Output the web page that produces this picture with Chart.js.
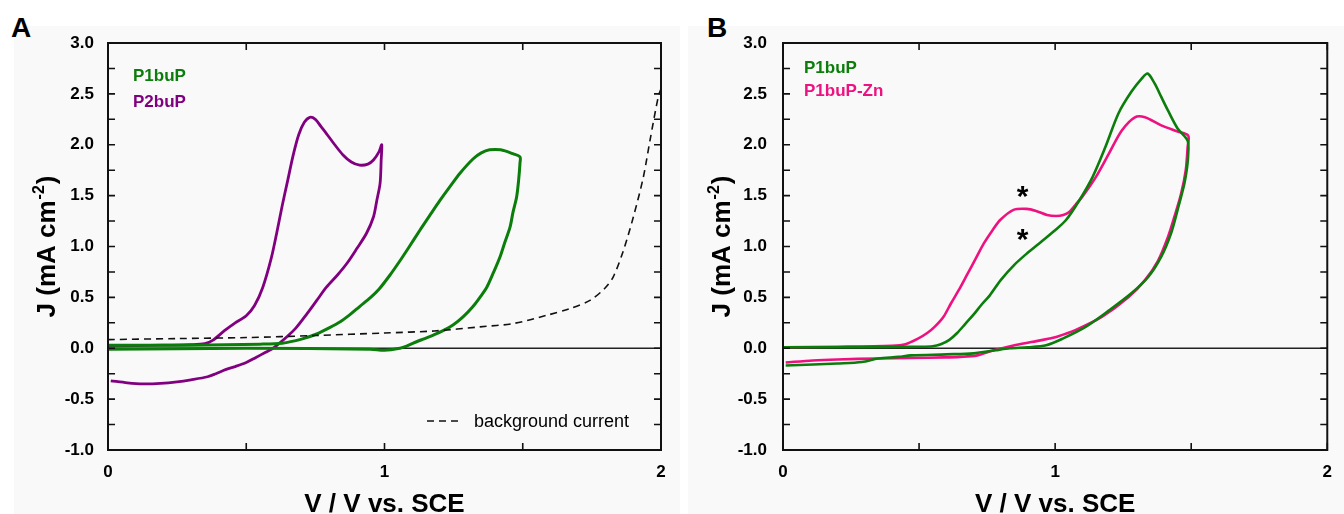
<!DOCTYPE html>
<html>
<head>
<meta charset="utf-8">
<script src="https://cdn.jsdelivr.net/npm/chart.js@4.4.0/dist/chart.umd.min.js"></script>
<style>
  html, body { margin: 0; padding: 0; background: #fff; }
  #wrap { position: relative; width: 1344px; height: 514px; overflow: hidden; font-family: "Liberation Sans", Arial, sans-serif; }
  .bg { position: absolute; top: 26px; bottom: 0; background: #f9f9f9; }
  .letter { position: absolute; top: 14px; font-weight: bold; font-size: 28px; line-height: 28px; color: #000; }
  canvas { position: absolute; top: 0; }
</style>
</head>
<body>
<div id="wrap">
  <div class="bg" style="left:14px; width:666px;"></div>
  <div class="bg" style="left:688px; width:656px;"></div>
  <div class="letter" style="left:11px;">A</div>
  <div class="letter" style="left:707px;">B</div>
  <canvas id="chartA" width="680" height="514" style="left:0"></canvas>
  <canvas id="chartB" width="664" height="514" style="left:680px"></canvas>
</div>
<script>
// === DATA ===
// Panel A - P1buP : forward scan, then reverse scan
const aP1buP_V = [0.00, 0.30, 0.55, 0.63, 0.70, 0.755, 0.80, 0.84, 0.875, 0.91, 0.95, 0.98, 1.02, 1.056, 1.09, 1.128, 1.165, 1.20, 1.24, 1.273, 1.32, 1.35, 1.38, 1.42, 1.466, 1.49,
                  1.49, 1.485, 1.478, 1.465, 1.454, 1.435, 1.418, 1.395, 1.37, 1.345, 1.32, 1.285, 1.249, 1.21, 1.177, 1.14, 1.104, 1.08, 1.056, 1.00, 0.95, 0.50, 0.00];
const aP1buP_J = [0.03, 0.03, 0.04, 0.05, 0.09, 0.14, 0.20, 0.26, 0.33, 0.41, 0.50, 0.58, 0.72, 0.86, 1.00, 1.16, 1.31, 1.45, 1.60, 1.72, 1.86, 1.92, 1.95, 1.95, 1.91, 1.88,
                  1.82, 1.65, 1.49, 1.34, 1.19, 1.04, 0.90, 0.75, 0.60, 0.50, 0.41, 0.31, 0.23, 0.17, 0.13, 0.09, 0.05, 0.02, 0.00, -0.02, -0.01, 0.00, -0.01];

// Panel A - P2buP
const aP2buP_V = [0.00, 0.10, 0.20, 0.30, 0.35, 0.38, 0.42, 0.46, 0.50, 0.53, 0.56, 0.59, 0.61, 0.63, 0.65, 0.67, 0.69, 0.71, 0.73, 0.75, 0.77, 0.79, 0.82, 0.85, 0.88, 0.91, 0.94, 0.96, 0.98, 0.99,
                  0.988, 0.984, 0.972, 0.96, 0.935, 0.90, 0.863, 0.83, 0.79, 0.755, 0.72, 0.68, 0.646, 0.62, 0.597, 0.57, 0.535, 0.50, 0.46, 0.425, 0.39, 0.36, 0.30, 0.25, 0.19, 0.127, 0.07, 0.01];
const aP2buP_J = [0.02, 0.025, 0.03, 0.035, 0.045, 0.08, 0.17, 0.25, 0.32, 0.42, 0.60, 0.88, 1.13, 1.40, 1.65, 1.90, 2.10, 2.22, 2.27, 2.25, 2.18, 2.11, 2.00, 1.90, 1.83, 1.80, 1.81, 1.85, 1.93, 2.00,
                  1.85, 1.62, 1.45, 1.29, 1.13, 0.98, 0.83, 0.72, 0.60, 0.47, 0.34, 0.20, 0.11, 0.05, 0.00, -0.04, -0.09, -0.14, -0.18, -0.21, -0.25, -0.28, -0.31, -0.33, -0.345, -0.35, -0.34, -0.32];

// Panel A - background current (dashed)
const aBg_V = [0.00, 0.25, 0.50, 0.75, 1.00, 1.18, 1.345, 1.466, 1.587, 1.671, 1.743, 1.797, 1.827, 1.864, 1.90, 1.936, 1.96, 1.99, 2.00];
const aBg_J = [0.085, 0.095, 0.105, 0.125, 0.15, 0.17, 0.21, 0.243, 0.324, 0.39, 0.47, 0.59, 0.70, 0.96, 1.29, 1.68, 2.04, 2.47, 2.55];

// Panel B - P1buP
const bP1buP_V = [0.00, 0.20, 0.40, 0.50, 0.55, 0.58, 0.61, 0.64, 0.67, 0.70, 0.73, 0.76, 0.80, 0.85, 0.90, 0.95, 1.00, 1.04, 1.088, 1.137, 1.185, 1.233, 1.28, 1.318, 1.34, 1.366, 1.39, 1.414, 1.45, 1.487,
                  1.489, 1.485, 1.475, 1.45, 1.426, 1.39, 1.342, 1.28, 1.197, 1.112, 1.028, 0.967, 0.90, 0.834, 0.78, 0.70, 0.60, 0.47, 0.425, 0.35, 0.29, 0.20, 0.11, 0.01];
const bP1buP_J = [0.01, 0.01, 0.012, 0.015, 0.02, 0.04, 0.08, 0.15, 0.24, 0.33, 0.43, 0.52, 0.67, 0.82, 0.94, 1.05, 1.16, 1.26, 1.45, 1.68, 1.98, 2.31, 2.52, 2.65, 2.70, 2.60, 2.47, 2.34, 2.16, 2.04,
                  1.91, 1.78, 1.62, 1.36, 1.13, 0.90, 0.70, 0.54, 0.37, 0.21, 0.095, 0.03, 0.01, 0.00, -0.02, -0.05, -0.06, -0.07, -0.085, -0.10, -0.135, -0.15, -0.16, -0.17];

// Panel B - P1buP-Zn
const bZn_V = [0.00, 0.20, 0.40, 0.45, 0.496, 0.53, 0.557, 0.59, 0.617, 0.65, 0.678, 0.71, 0.738, 0.77, 0.798, 0.847, 0.895, 0.93, 0.97, 1.004, 1.03, 1.052, 1.075, 1.10, 1.149, 1.197, 1.245, 1.293, 1.33, 1.39, 1.45, 1.489,
               1.487, 1.48, 1.463, 1.438, 1.414, 1.378, 1.33, 1.269, 1.173, 1.076, 1.004, 0.979, 0.931, 0.883, 0.82, 0.774, 0.714, 0.65, 0.593, 0.47, 0.35, 0.20, 0.11, 0.01];
const bZn_J = [0.01, 0.015, 0.025, 0.04, 0.095, 0.15, 0.21, 0.31, 0.44, 0.59, 0.73, 0.89, 1.03, 1.16, 1.26, 1.36, 1.37, 1.35, 1.31, 1.30, 1.31, 1.34, 1.41, 1.49, 1.68, 1.91, 2.14, 2.27, 2.27, 2.19, 2.13, 2.09,
               1.98, 1.75, 1.52, 1.29, 1.09, 0.86, 0.67, 0.50, 0.31, 0.18, 0.11, 0.095, 0.07, 0.046, 0.01, -0.02, -0.07, -0.085, -0.09, -0.095, -0.10, -0.11, -0.12, -0.14];

// axis tick marks (major + minor) and the two asterisks in panel B
const xTickMarks = [0, 0.5, 1, 1.5, 2];
const yTickMarks = [-1, -0.75, -0.5, -0.25, 0, 0.25, 0.5, 0.75, 1, 1.25, 1.5, 1.75, 2, 2.25, 2.5, 2.75, 3];
const starMarks = [[0.88, 1.57], [0.88, 1.14]];

// === STYLE ===
const FONT = '"Liberation Sans", Arial, sans-serif';
const GREEN = '#0b7d0b';
const PURPLE = '#800080';
const PINK = '#ee1180';

const toPts = (vs, js) => vs.map((v, i) => ({ x: v, y: js[i] }));

function drawYTitle(ctx, cx, cy) {
  ctx.save();
  ctx.translate(cx, cy);
  ctx.rotate(-Math.PI / 2);
  const big = 'bold 26px ' + FONT, small = 'bold 16px ' + FONT;
  ctx.font = big;
  const w1 = ctx.measureText('J (mA cm').width, w3 = ctx.measureText(')').width;
  ctx.font = small;
  const w2 = ctx.measureText('-2').width;
  const x0 = -(w1 + w2 + w3 + 2) / 2, base = 9;
  ctx.fillStyle = '#000';
  ctx.textAlign = 'left';
  ctx.textBaseline = 'alphabetic';
  ctx.font = big;   ctx.fillText('J (mA cm', x0, base);
  ctx.font = small; ctx.fillText('-2', x0 + w1 + 1, base - 11);
  ctx.font = big;   ctx.fillText(')', x0 + w1 + w2 + 2, base);
  ctx.restore();
}

// frame, ticks, zero line, titles and labels
const frame = {
  id: 'frame',
  beforeDatasetsDraw(chart, args, o) {
    const { ctx, chartArea: a, scales: { y } } = chart;
    const y0 = y.getPixelForValue(0);
    ctx.save();
    ctx.strokeStyle = '#222';
    ctx.lineWidth = 1.6;
    ctx.beginPath(); ctx.moveTo(a.left, y0); ctx.lineTo(a.right, y0); ctx.stroke();
    ctx.restore();
  },
  afterDraw(chart, args, o) {
    const { ctx, chartArea: a, scales: { x, y } } = chart;
    ctx.save();
    ctx.strokeStyle = '#111';
    ctx.lineWidth = 2;
    ctx.strokeRect(a.left, a.top, a.right - a.left, a.bottom - a.top);
    ctx.lineWidth = 1.6;
    ctx.beginPath();
    xTickMarks.forEach(v => {
      const px = x.getPixelForValue(v);
      ctx.moveTo(px, a.bottom); ctx.lineTo(px, a.bottom - 7);
      ctx.moveTo(px, a.top); ctx.lineTo(px, a.top + 7);
    });
    yTickMarks.forEach(v => {
      const py = y.getPixelForValue(v);
      ctx.moveTo(a.left, py); ctx.lineTo(a.left + 7, py);
      ctx.moveTo(a.right, py); ctx.lineTo(a.right - 7, py);
    });
    ctx.stroke();

    // axis titles
    ctx.fillStyle = '#000';
    ctx.font = 'bold 26px ' + FONT;
    ctx.textAlign = 'center';
    ctx.textBaseline = 'alphabetic';
    ctx.fillText('V / V vs. SCE', (a.left + a.right) / 2, 512);
    drawYTitle(ctx, o.yTitleX, (a.top + a.bottom) / 2);

    // series labels
    ctx.font = 'bold 17px ' + FONT;
    ctx.textAlign = 'left';
    ctx.textBaseline = 'middle';
    o.labels.forEach(l => {
      ctx.fillStyle = l.color;
      ctx.fillText(l.text, a.left + o.labelDx, l.y);
    });

    if (o.bgLegend) {
      const ly = 421;
      ctx.strokeStyle = '#111';
      ctx.lineWidth = 1.6;
      ctx.setLineDash([7, 5]);
      ctx.beginPath(); ctx.moveTo(427, ly); ctx.lineTo(463, ly); ctx.stroke();
      ctx.setLineDash([]);
      ctx.fillStyle = '#000';
      ctx.font = '18px ' + FONT;
      ctx.textBaseline = 'alphabetic';
      ctx.fillText('background current', 474, ly + 6);
    }

    if (o.stars) {
      ctx.fillStyle = '#000';
      ctx.font = 'bold 30px ' + FONT;
      ctx.textAlign = 'center';
      ctx.textBaseline = 'alphabetic';
      starMarks.forEach(([v, j]) => {
        ctx.fillText('*', x.getPixelForValue(v), y.getPixelForValue(j) + 17);
      });
    }
    ctx.restore();
  }
};

function makePanel(id, fo, datasets) {
  const tickFont = { family: FONT, size: 17, weight: 'bold' };
  return new Chart(document.getElementById(id), {
    type: 'scatter',
    data: { datasets },
    options: {
      responsive: false,
      animation: false,
      layout: { padding: fo.pad },
      elements: { point: { radius: 0 }, line: { tension: 0.3 } },
      plugins: { legend: { display: false }, tooltip: { enabled: false }, frame: fo },
      scales: {
        x: {
          type: 'linear', min: 0, max: 2,
          afterFit: s => { s.height = 64; },
          grid: { display: false, drawTicks: false },
          border: { display: false },
          ticks: { stepSize: 1, font: tickFont, color: '#000', padding: 12, callback: v => String(v) }
        },
        y: {
          type: 'linear', min: -1, max: 3,
          afterFit: s => { s.width = fo.yWidth; },
          grid: { display: false, drawTicks: false },
          border: { display: false },
          ticks: { stepSize: 0.5, font: tickFont, color: '#000', padding: fo.yPad, callback: v => v.toFixed(1) }
        }
      }
    },
    plugins: [frame]
  });
}

const line = (label, vs, js, color, extra) => Object.assign({
  label, data: toPts(vs, js), showLine: true, borderColor: color, borderWidth: 2.6, fill: false, pointRadius: 0
}, extra || {});

makePanel('chartA', {
  pad: { left: 0, top: 43, right: 19, bottom: 0 }, yWidth: 108, yPad: 14, yTitleX: 46, labelDx: 25,
  labels: [{ text: 'P1buP', color: GREEN, y: 76 }, { text: 'P2buP', color: PURPLE, y: 102 }],
  bgLegend: true
}, [
  line('background current', aBg_V, aBg_J, '#111', { borderWidth: 1.6, borderDash: [7, 5] }),
  line('P1buP', aP1buP_V, aP1buP_J, GREEN, { borderWidth: 3 }),
  line('P2buP', aP2buP_V, aP2buP_J, PURPLE, { borderWidth: 2.8 })
]);

makePanel('chartB', {
  pad: { left: 0, top: 43, right: 9, bottom: 0 }, yWidth: 103, yPad: 16, yTitleX: 41, labelDx: 21,
  labels: [{ text: 'P1buP', color: GREEN, y: 68 }, { text: 'P1buP-Zn', color: PINK, y: 91 }],
  stars: true
}, [
  line('P1buP', bP1buP_V, bP1buP_J, GREEN),
  line('P1buP-Zn', bZn_V, bZn_J, PINK)
]);
</script>
</body>
</html>
